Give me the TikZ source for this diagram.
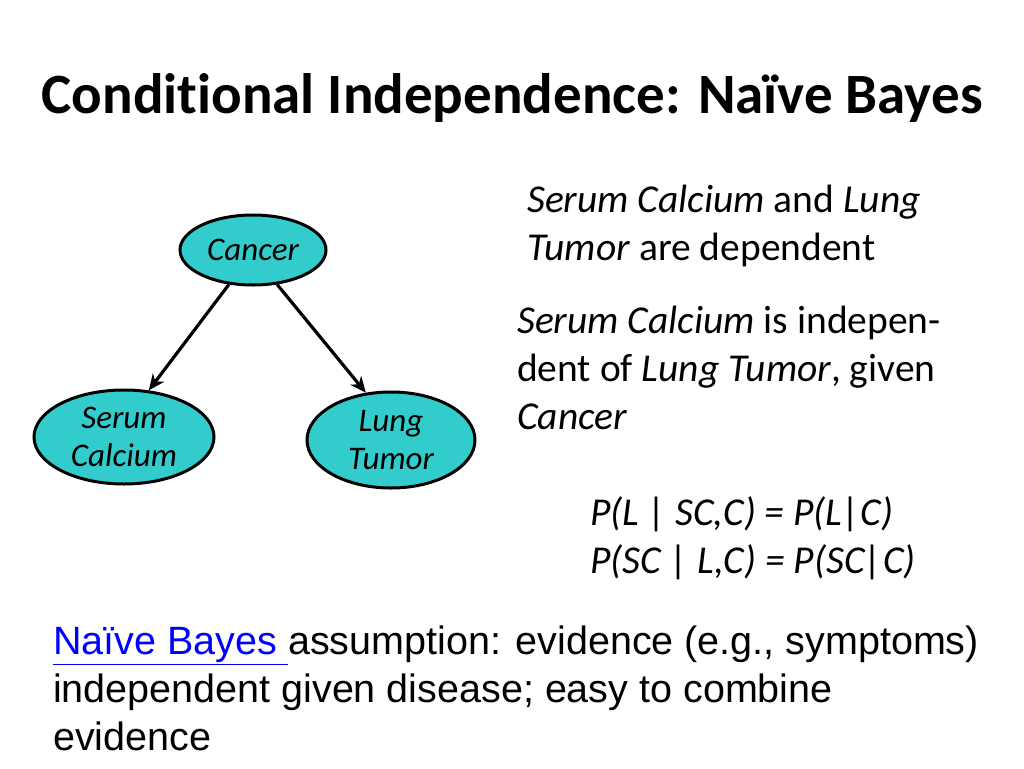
\documentclass[tikz,border=0pt]{standalone}
\usepackage{fontspec}
\setmainfont[Ligatures={NoCommon}]{Carlito}
\newfontfamily\arialf{Liberation Sans}
\usetikzlibrary{arrows.meta,shapes.geometric}
\definecolor{teal1}{HTML}{33CCCC}
\definecolor{linkblue}{HTML}{0000FF}
\begin{document}
\begin{tikzpicture}[x=1pt,y=-1pt,
  bn/.style={ellipse,draw=black,line width=3pt,fill=teal1,font=\fontsize{33}{40}\selectfont\itshape,align=center,inner sep=0pt},
  arr/.style={line width=3.2pt,-{Stealth[length=16pt,width=14pt]}},
  txt/.style={anchor=west,align=left,inner sep=0pt,font=\fontsize{39.5}{48}\selectfont}]
\useasboundingbox (0,0) rectangle (1024,768);
\node[font=\fontsize{57}{60}\selectfont\bfseries] (title) at (512,98) {Conditional Independence: Naïve Bayes};
\node[bn,minimum width=146pt,minimum height=70pt] (c) at (253,250) {Cancer};
\node[bn,minimum width=180pt,minimum height=94pt] (sc) at (124,437) {Serum\\[-2pt]Calcium};
\node[bn,minimum width=168pt,minimum height=96pt] (lt) at (391,440) {Lung\\[-2pt]Tumor};
\draw[arr] (c.235) -- (sc.62);
\draw[arr] (c.-55) -- (lt.118);
\node[txt] (t1) at (527,226) {\textit{Serum Calcium} and \textit{Lung}\\\textit{Tumor} are dependent};
\node[txt] (t2) at (517,368) {\textit{Serum Calcium} is indepen-\\dent of \textit{Lung Tumor}, given\\\textit{Cancer}};
\node[txt] (t3) at (590,538) {\textit{P(L | SC,C) = P(L|C)}\\\textit{P(SC | L,C) = P(SC|C)}};
\node[txt,font=\fontsize{39.5}{48}\selectfont\arialf] (t4) at (53,688) {\textcolor{linkblue}{\underline{Naïve Bayes }}assumption: evidence (e.g., symptoms)\\independent given disease; easy to combine\\evidence};
\end{tikzpicture}
\end{document}
